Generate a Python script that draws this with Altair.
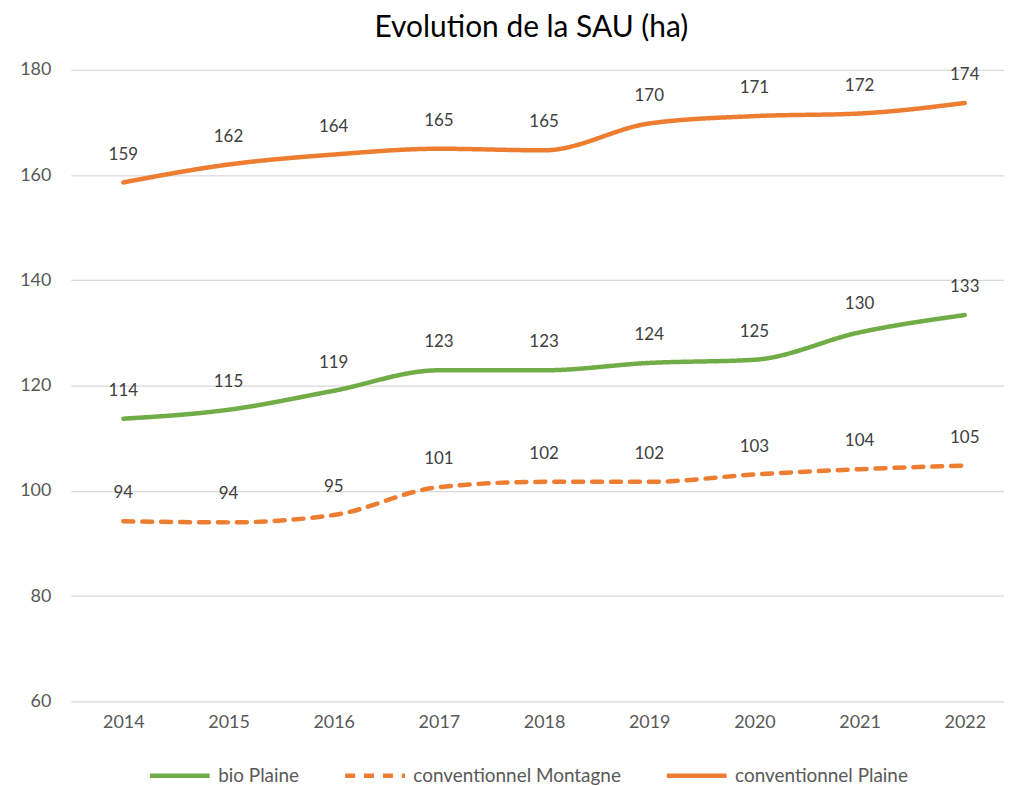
import altair as alt
import pandas as pd

years = [2014, 2015, 2016, 2017, 2018, 2019, 2020, 2021, 2022]
series_names = ["bio Plaine", "conventionnel Montagne", "conventionnel Plaine"]
bio_plaine = [113.7, 115.4, 119.0, 122.9, 122.9, 124.3, 124.9, 130.1, 133.4]
conv_montagne = [94.2, 94.0, 95.4, 100.7, 101.7, 101.7, 103.1, 104.1, 104.8]
conv_plaine = [158.6, 162.0, 163.9, 165.0, 164.7, 169.8, 171.2, 171.7, 173.7]
colors = ["#70AD47", "#ED7D31", "#ED7D31"]
dashes = [[1, 0], [10, 9], [1, 0]]
y_ticks = [60, 80, 100, 120, 140, 160, 180]

rows = []
for name, vals in zip(series_names, [bio_plaine, conv_montagne, conv_plaine]):
    for yr, v in zip(years, vals):
        rows.append({"year": yr, "value": v, "series": name})
df = pd.DataFrame(rows)

FONT = "Lato"

x = alt.X("year:Q", scale=alt.Scale(domain=[2013.5, 2022.373], nice=False, zero=False),
          axis=alt.Axis(values=years, format="d", title=None, grid=False, domain=False,
                        ticks=False, labelFontSize=18, labelColor="#595959", labelFont=FONT,
                        labelPadding=12))
y = alt.Y("value:Q", scale=alt.Scale(domain=[60, 180], nice=False, zero=False),
          axis=alt.Axis(values=y_ticks, title=None, domain=False, ticks=False,
                        gridColor="#D9D9D9", gridWidth=1.3, labelFontSize=18,
                        labelColor="#595959", labelFont=FONT, labelPadding=20))

legend_opts = dict(title=None, orient="none", legendX=77, legendY=676,
                   direction="horizontal", columns=3, columnPadding=36,
                   symbolType="stroke", symbolSize=3600,
                   symbolStrokeWidth=4.5, labelFontSize=19, labelLimit=0,
                   labelColor="#595959", labelFont=FONT, labelOffset=6,
                   padding=0)

color = alt.Color("series:N", scale=alt.Scale(domain=series_names, range=colors),
                  legend=alt.Legend(**legend_opts))
dash = alt.StrokeDash("series:N", scale=alt.Scale(domain=series_names, range=dashes),
                      legend=alt.Legend(**legend_opts))

lines = alt.Chart(df).mark_line(strokeWidth=4.5, interpolate="monotone", strokeCap="round").encode(
    x=x, y=y, color=color, strokeDash=dash, detail="series:N"
)

labels = alt.Chart(df).mark_text(dy=-28, fontSize=17, color="#404040", font=FONT,
                                 baseline="middle", align="center").encode(
    x=alt.X("year:Q"), y=alt.Y("value:Q"), text=alt.Text("value:Q", format=".0f")
)

chart = alt.layer(lines, labels).properties(
    width=937, height=634,
    autosize=alt.AutoSizeParams(type="none"),
    padding={"left": 63, "top": 60.5, "right": 0, "bottom": 86},
    title=alt.TitleParams("Evolution de la SAU (ha)", fontSize=30, font=FONT,
                          fontWeight="normal", color="#000000", anchor="middle",
                          dx=-6, offset=18, frame="group"),
).configure_view(stroke=None)

chart.save("out.html", embed_options={"renderer": "svg", "actions": False})
